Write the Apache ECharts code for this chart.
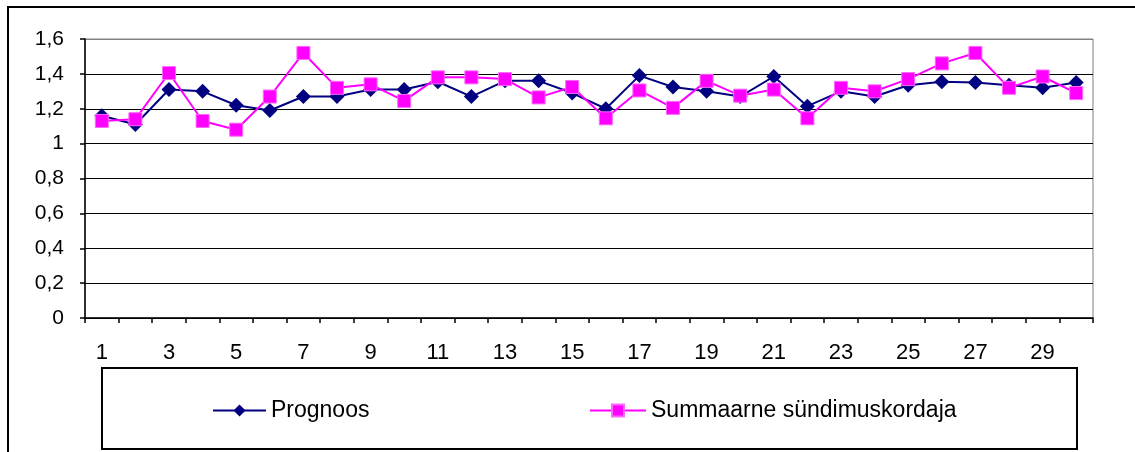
<!DOCTYPE html>
<html>
<head>
<meta charset="utf-8">
<script src="https://cdn.jsdelivr.net/npm/echarts@6/dist/echarts.min.js"></script>
<style>html,body{margin:0;padding:0;background:#fff;}#c{width:1135px;height:452px;}</style>
</head>
<body>
<div id="c"></div>
<script>
const categories = ['1','2','3','4','5','6','7','8','9','10','11','12','13','14','15','16','17','18','19','20','21','22','23','24','25','26','27','28','29','30'];
const prognoos = [1.16,1.11,1.31,1.30,1.22,1.19,1.27,1.27,1.31,1.31,1.355,1.27,1.36,1.36,1.29,1.20,1.39,1.325,1.30,1.27,1.385,1.215,1.30,1.27,1.335,1.355,1.35,1.335,1.32,1.35];
const summaarne = [1.13,1.14,1.405,1.13,1.08,1.27,1.52,1.32,1.34,1.245,1.38,1.38,1.37,1.265,1.325,1.145,1.305,1.205,1.36,1.275,1.31,1.145,1.32,1.30,1.37,1.46,1.52,1.32,1.385,1.29];
const seriesNames = ['Prognoos','Summaarne sündimuskordaja'];
const yTicks = {min:0, max:1.6, step:0.2};

const FONT = 'Liberation Sans, Arial, sans-serif';
const chart = echarts.init(document.getElementById('c'), null, {renderer:'canvas'});
const gridColors = [];
for (let i = 0; i < 8; i++) gridColors.push('#000000');
gridColors.push('#808080');

chart.setOption({
  animation:false,
  backgroundColor:'#ffffff',
  textStyle:{fontFamily:FONT},
  grid:{left:85, top:39, right:42, bottom:134, show:true, borderColor:'#808080', borderWidth:1, containLabel:false},
  xAxis:{
    type:'category', data:categories, boundaryGap:true,
    axisLine:{lineStyle:{color:'#000', width:1.5}},
    axisTick:{show:true, interval:0, length:5, lineStyle:{color:'#000', width:1.5}},
    axisLabel:{interval:1, color:'#000', fontSize:22, fontFamily:FONT, margin:24},
    splitLine:{show:false}
  },
  yAxis:{
    type:'value', min:yTicks.min, max:yTicks.max, interval:yTicks.step,
    axisLine:{show:true, lineStyle:{color:'#000', width:1.5}},
    axisTick:{show:true, length:5, lineStyle:{color:'#000', width:1.5}},
    axisLabel:{color:'#000', fontSize:21, fontFamily:FONT, margin:21,
      formatter:function(v){ return String(Math.round(v*10)/10).replace('.',','); }},
    splitLine:{show:true, lineStyle:{color:gridColors, width:1}}
  },
  legend:[
    {data:[seriesNames[0]], left:212, top:399, padding:0, itemWidth:53, itemHeight:15, itemGap:0,
     textStyle:{color:'#000', fontSize:23, fontFamily:FONT}},
    {data:[seriesNames[1]], left:589, top:399, padding:0, itemWidth:56, itemHeight:15, itemGap:0,
     textStyle:{color:'#000', fontSize:23, fontFamily:FONT}}
  ],
  series:[
    {name:seriesNames[0], type:'line', data:prognoos, symbol:'diamond', symbolSize:15,
     lineStyle:{color:'#000080', width:2}, itemStyle:{color:'#000080'}, z:3},
    {name:seriesNames[1], type:'line', data:summaarne, symbol:'rect', symbolSize:13,
     lineStyle:{color:'#FF00FF', width:2}, itemStyle:{color:'#FF00FF', borderColor:'#FF66FF', borderWidth:1}, z:4}
  ],
  graphic:[
    {type:'rect', shape:{x:8, y:7, width:1200, height:500}, style:{fill:null, stroke:'#000', lineWidth:2}, silent:true, z:-1},
    {type:'rect', shape:{x:102, y:368, width:975, height:81}, style:{fill:null, stroke:'#000', lineWidth:2}, silent:true, z:-1}
  ]
});
</script>
</body>
</html>
